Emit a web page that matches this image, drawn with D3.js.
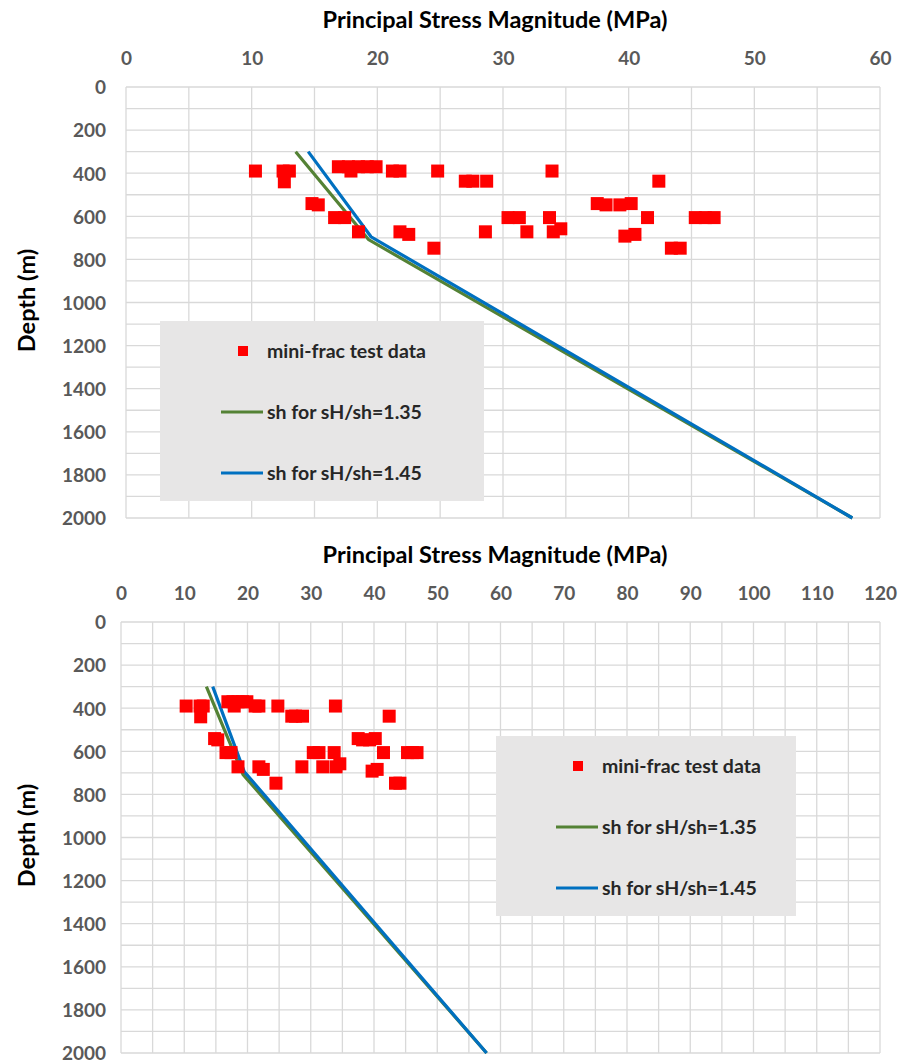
<!DOCTYPE html>
<html>
<head>
<meta charset="utf-8">
<script src="https://cdn.jsdelivr.net/npm/d3@7"></script>
<style>
  body { margin: 0; background: #fff; }
  svg { display: block; font-family: Lato, "Open Sans", sans-serif; }
</style>
</head>
<body>
<svg id="chart" width="899" height="1064"></svg>
<script>
// mini-frac test data, stress in MPa and depth in m
const fracStress = [10.3, 12.5, 13.0, 12.6, 14.8, 15.3, 16.9, 17.9, 17.7, 18.5, 19.2, 19.9, 21.2, 21.8, 24.8,
  27.0, 27.6, 28.7, 33.9, 42.4, 37.5, 38.2, 39.3, 40.2, 16.6, 17.4, 30.4, 31.3, 33.7, 41.5,
  45.3, 46.1, 46.8, 18.5, 21.8, 22.5, 28.6, 31.9, 34.0, 34.6, 39.7, 40.5, 24.5, 43.4, 44.1]
const fracDepth = [390, 390, 390, 440, 541, 547, 370, 390, 370, 370, 370, 370, 390, 390, 390,
  437, 437, 437, 390, 437, 541, 547, 547, 541, 606, 606, 606, 606, 606, 606,
  606, 606, 606, 672, 672, 684, 672, 672, 672, 658, 692, 684, 748, 748, 748]

// sh profiles
const sh135Stress = [13.5, 19.3, 57.8]
const sh135Depth = [300, 708, 2000]
const sh145Stress = [14.5, 19.5, 57.8]
const sh145Depth = [300, 695, 2000]

const xTicksTop = [0, 10, 20, 30, 40, 50, 60]
const xTicksBottom = [0, 10, 20, 30, 40, 50, 60, 70, 80, 90, 100, 110, 120]
const depthTicks = [0, 200, 400, 600, 800, 1000, 1200, 1400, 1600, 1800, 2000]

const legendLabels = ['mini-frac test data', 'sh for sH/sh=1.35', 'sh for sH/sh=1.45']

const svg = d3.select('#chart')

function drawChart (opt) {
  const x = d3.scaleLinear().domain([0, opt.xMax]).range([opt.left, opt.right])
  const y = d3.scaleLinear().domain([0, 2000]).range([opt.top, opt.bottom])
  const g = svg.append('g')

  // grid
  g.selectAll('.vgrid')
    .data(d3.range(0, opt.xMax + 0.1, 5))
    .enter()
    .append('line')
    .attr('x1', d => x(d)).attr('x2', d => x(d))
    .attr('y1', opt.top).attr('y2', opt.bottom)
    .attr('stroke', '#d9d9d9').attr('stroke-width', 1.3)
  g.selectAll('.hgrid')
    .data(d3.range(0, 2001, 100))
    .enter()
    .append('line')
    .attr('x1', opt.left).attr('x2', opt.right)
    .attr('y1', d => y(d)).attr('y2', d => y(d))
    .attr('stroke', '#d9d9d9').attr('stroke-width', 1.3)

  // axes labels
  const xAxis = g.append('g')
    .attr('transform', `translate(0,${opt.top - 19})`)
    .call(d3.axisTop(x).tickValues(opt.xTicks).tickSize(0))
  const yAxis = g.append('g')
    .attr('transform', 'translate(109,0)')
    .call(d3.axisLeft(y).tickValues(depthTicks).tickSize(0).tickFormat(d3.format('d')))
  ;[xAxis, yAxis].forEach(a => {
    a.select('.domain').remove()
    a.selectAll('text')
      .attr('fill', '#595959')
      .style('font-size', '19px')
      .style('font-weight', 'bold')
      .style('font-family', 'Lato, sans-serif')
  })
  yAxis.selectAll('text').attr('dy', '0.36em')

  g.append('text')
    .attr('x', 495).attr('y', opt.top - 59)
    .attr('text-anchor', 'middle')
    .style('font-size', '23.5px').style('font-weight', 'bold')
    .text('Principal Stress Magnitude (MPa)')
  g.append('text')
    .attr('transform', `translate(35,${(opt.top + opt.bottom) / 2 - 2}) rotate(-90)`)
    .attr('text-anchor', 'middle')
    .style('font-size', '23.5px').style('font-weight', 'bold')
    .text('Depth (m)')

  // lines
  const line = d3.line().x(d => x(d[0])).y(d => y(d[1]))
  g.append('path')
    .datum(d3.zip(sh135Stress, sh135Depth))
    .attr('d', line).attr('fill', 'none')
    .attr('stroke', '#548235').attr('stroke-width', 3.2)
  g.append('path')
    .datum(d3.zip(sh145Stress, sh145Depth))
    .attr('d', line).attr('fill', 'none')
    .attr('stroke', '#0070c0').attr('stroke-width', 3.2)

  // markers
  const ms = 13
  g.selectAll('.pt')
    .data(d3.zip(fracStress, fracDepth))
    .enter()
    .append('rect')
    .attr('x', d => x(d[0]) - ms / 2)
    .attr('y', d => y(d[1]) - ms / 2)
    .attr('width', ms).attr('height', ms)
    .attr('fill', '#ff0000')

  // legend
  const lg = g.append('g').attr('transform', `translate(${opt.legX},${opt.legY})`)
  lg.append('rect').attr('width', opt.legW).attr('height', 180).attr('fill', '#e7e6e6')
  lg.append('rect')
    .attr('x', opt.mkX - 5).attr('y', 30 - 5)
    .attr('width', 10).attr('height', 10).attr('fill', '#ff0000')
  lg.append('line')
    .attr('x1', opt.mkX - 22).attr('x2', opt.mkX + 20)
    .attr('y1', 91).attr('y2', 91)
    .attr('stroke', '#548235').attr('stroke-width', 3.2)
  lg.append('line')
    .attr('x1', opt.mkX - 22).attr('x2', opt.mkX + 20)
    .attr('y1', 152).attr('y2', 152)
    .attr('stroke', '#0070c0').attr('stroke-width', 3.2)
  lg.selectAll('.lt')
    .data(legendLabels)
    .enter()
    .append('text')
    .attr('x', opt.mkX + 24)
    .attr('y', (d, i) => 30 + i * 61)
    .attr('dy', '0.36em')
    .attr('fill', '#262626')
    .style('font-size', '19.5px').style('font-weight', 'bold')
    .text(d => d)
}

drawChart({ xMax: 60, xTicks: xTicksTop, left: 126, right: 880, top: 87, bottom: 518,
  legX: 160, legY: 321, legW: 324, mkX: 83 })
drawChart({ xMax: 120, xTicks: xTicksBottom, left: 121, right: 880, top: 622, bottom: 1053,
  legX: 496, legY: 736, legW: 300, mkX: 82 })
</script>
</body>
</html>
